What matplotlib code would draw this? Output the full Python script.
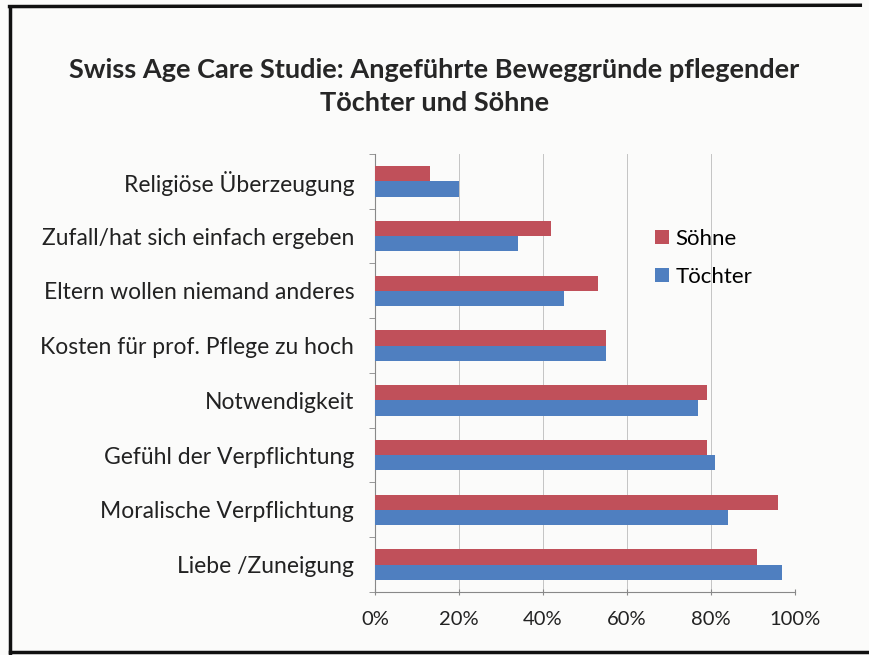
import matplotlib.pyplot as plt
import numpy as np

# Daten (Anteile in %)
categories = ['Religiöse Überzeugung', 'Zufall/hat sich einfach ergeben',
              'Eltern wollen niemand anderes', 'Kosten für prof. Pflege zu hoch',
              'Notwendigkeit', 'Gefühl der Verpflichtung',
              'Moralische Verpflichtung', 'Liebe /Zuneigung']
soehne = [13, 42, 53, 55, 79, 79, 96, 91]
toechter = [20, 34, 45, 55, 77, 81, 84, 97]
xticks = [0, 20, 40, 60, 80, 100]

plt.rcParams['font.family'] = ['Lato', 'DejaVu Sans']

fig = plt.figure(figsize=(8.69, 6.55), dpi=100)
fig.patch.set_facecolor('#fbfbfa')
ax = fig.add_axes([0.4315, 0.0962, 0.4833, 0.6687])
ax.set_facecolor('#fbfbfa')

y = np.arange(len(categories))
h = 0.28
ax.barh(y - h / 2, soehne, height=h, color='#c0505a', label='Söhne', zorder=3)
ax.barh(y + h / 2, toechter, height=h, color='#4f7fc0', label='Töchter', zorder=3)

ax.set_ylim(len(categories) - 0.5, -0.5)
ax.set_xlim(0, 100)
ax.set_yticks(y)
ax.set_yticklabels(categories, fontsize=16.5, color='#222222')
ax.set_yticks(np.arange(len(categories) + 1) - 0.5, minor=True)
ax.tick_params(axis='y', which='major', length=0, pad=15)
ax.tick_params(axis='y', which='minor', length=4, color='#888888')
ax.set_xticks(xticks)
ax.set_xticklabels([f'{v}%' for v in xticks], fontsize=14.5, color='#222222')
ax.tick_params(axis='x', length=4, direction='inout', color='#888888', pad=12)

ax.grid(axis='x', color='#c4c4c4', linewidth=0.7, zorder=0)
for s in ['top', 'right']:
    ax.spines[s].set_visible(False)
ax.spines['left'].set_color('#888888')
ax.spines['bottom'].set_color('#888888')

ax.legend(loc='upper left', bbox_to_anchor=(0.62, 0.875), frameon=False,
          fontsize=16, handlelength=0.6, handleheight=0.6, handletextpad=0.3,
          labelspacing=0.8)

fig.text(0.5, 0.893, 'Swiss Age Care Studie: Angeführte Beweggründe pflegender',
         ha='center', va='center', fontsize=19.5, fontweight='bold', color='#262626')
fig.text(0.5, 0.843, 'Töchter und Söhne',
         ha='center', va='center', fontsize=19.5, fontweight='bold', color='#262626')

# Rahmen des Scans
fig.add_artist(plt.Line2D([0.011, 0.011], [0.0, 0.99], color='#111111', linewidth=2.5))
fig.add_artist(plt.Line2D([0.011, 0.99], [0.99, 0.992], color='#111111', linewidth=2.5))
fig.add_artist(plt.Line2D([0.011, 1.0], [0.004, 0.004], color='#111111', linewidth=2.5))

fig.savefig('out.png', dpi=100, facecolor=fig.get_facecolor())
